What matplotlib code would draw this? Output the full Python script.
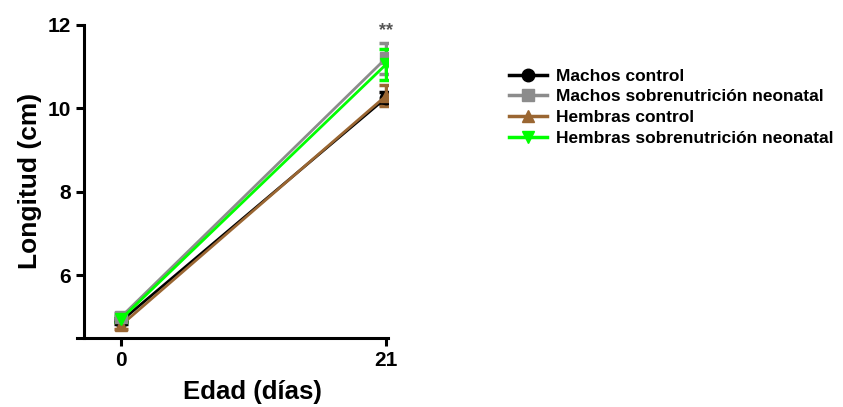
import matplotlib.pyplot as plt
from matplotlib.lines import Line2D

plt.rcParams['font.family'] = ['Liberation Sans', 'DejaVu Sans']
plt.rcParams['font.weight'] = 'bold'

# data
dias = [0, 21]
series = ['Machos control', 'Machos sobrenutrición neonatal',
          'Hembras control', 'Hembras sobrenutrición neonatal']
medias = [[4.9, 10.25], [5.0, 11.2], [4.8, 10.3], [4.95, 11.05]]
errores = [[0.08, 0.15], [0.1, 0.37], [0.08, 0.25], [0.08, 0.37]]
colores = ['#000000', '#8c8c8c', '#9a6632', '#00ff00']
marcadores = ['o', 's', '^', 'v']

fig = plt.figure(figsize=(8.43, 4.07), dpi=100)
ax = fig.add_axes([0.0913, 0.17, 0.369, 0.769])

orden = [0, 2, 1, 3]
for i in orden:
    ax.errorbar(dias, medias[i], yerr=errores[i], color=colores[i],
                marker=marcadores[i], markersize=9, linewidth=2,
                elinewidth=2.5, capsize=5, capthick=2.5)

ax.text(21, 11.85, '**', ha='center', va='center', fontsize=13,
        color='#555555')

ax.set_xlim(-3.49, 21.16)
ax.set_ylim(4.5, 12)
ax.set_xticks([0, 21])
ax.set_yticks([6, 8, 10, 12])
ax.spines['top'].set_visible(False)
ax.spines['right'].set_visible(False)
ax.spines['left'].set_position(('data', -2.93))
for s in ['left', 'bottom']:
    ax.spines[s].set_linewidth(2.2)
ax.tick_params(width=2.2, length=6, labelsize=15)
for lab in ax.get_xticklabels() + ax.get_yticklabels():
    lab.set_fontweight('bold')

ax.set_xlabel('Edad (días)', fontsize=18.5, fontweight='bold')
ax.xaxis.set_label_coords(0.563, -0.172)
ax.xaxis.label.set_va('center')
ax.set_ylabel('Longitud (cm)', fontsize=19, fontweight='bold', labelpad=4)

handles = [Line2D([], [], color=colores[i], marker=marcadores[i],
                  markersize=9, linewidth=2.5) for i in range(4)]
fig.legend(handles, series, loc='upper left',
           bbox_to_anchor=(0.585, 0.87), frameon=False,
           prop={'weight': 'bold', 'size': 12.5},
           handlelength=2.2, handletextpad=0.5, labelspacing=0.32)

fig.savefig('out.png', dpi=100)
